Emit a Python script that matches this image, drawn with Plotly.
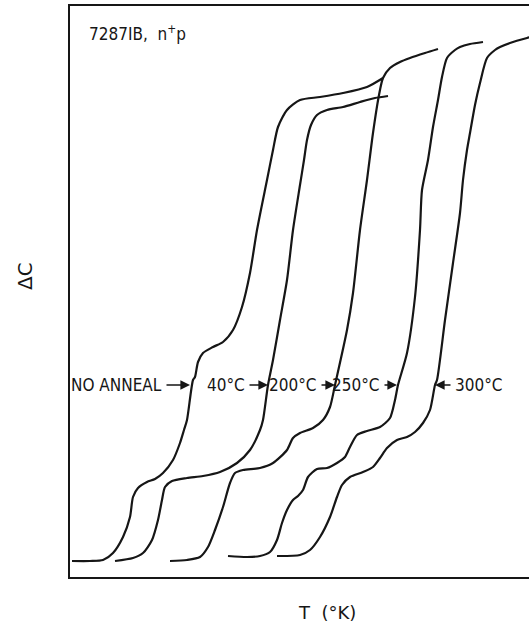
import plotly.graph_objects as go

# Temperature (arbitrary units along T axis) and capacitance change (arbitrary units)
T_no_anneal = [2, 20, 33, 43, 53, 60, 63, 68, 77, 85, 93, 103, 110, 114, 117, 123, 125, 128, 133, 143, 153, 163, 172, 180, 187, 197, 203, 208, 217, 230, 250, 273, 297, 313]
C_no_anneal = [16, 16, 17, 24, 40, 60, 80, 89, 95, 98, 104, 117, 134, 147, 157, 197, 200, 215, 224, 230, 235, 247, 270, 304, 347, 397, 427, 450, 467, 477, 480, 484, 490, 499]

T_40 = [45, 63, 73, 82, 88, 92, 95, 102, 117, 133, 150, 167, 180, 190, 193, 198, 203, 210, 217, 223, 230, 234, 237, 241, 247, 257, 273, 290, 305, 318]
C_40 = [16, 19, 24, 37, 57, 77, 90, 96, 99, 101, 105, 114, 127, 147, 157, 192, 217, 257, 297, 347, 392, 417, 437, 452, 462, 467, 470, 475, 479, 481]

T_200 = [100, 117, 130, 138, 145, 153, 160, 165, 173, 190, 203, 217, 223, 230, 243, 253, 260, 265, 277, 283, 290, 297, 303, 309, 313, 320, 330, 340, 355, 368]
C_200 = [16, 17, 20, 30, 47, 70, 94, 104, 107, 109, 114, 127, 139, 144, 149, 157, 170, 192, 247, 284, 347, 397, 444, 482, 499, 509, 515, 519, 524, 528]

T_250 = [158, 177, 190, 200, 207, 212, 217, 223, 228, 233, 238, 247, 257, 267, 275, 280, 287, 297, 310, 320, 325, 328, 337, 345, 350, 352, 358, 363, 368, 372, 377, 385, 390, 400, 413]
C_250 = [21, 20, 21, 25, 37, 54, 67, 77, 81, 87, 100, 108, 109, 114, 120, 130, 142, 146, 150, 159, 177, 192, 224, 280, 347, 387, 417, 450, 477, 500, 519, 527, 530, 533, 535]

T_300 = [207, 230, 240, 250, 260, 267, 272, 280, 293, 303, 310, 317, 327, 337, 345, 353, 360, 365, 367, 375, 383, 390, 393, 397, 400, 405, 410, 417, 425, 430, 440, 457, 465]
C_300 = [21, 22, 27, 40, 60, 80, 92, 100, 105, 110, 119, 129, 137, 140, 145, 154, 167, 192, 197, 257, 314, 364, 397, 427, 444, 472, 494, 519, 527, 530, 534, 539, 541]

series = [
    ("NO ANNEAL", T_no_anneal, C_no_anneal),
    ("40°C", T_40, C_40),
    ("200°C", T_200, C_200),
    ("250°C", T_250, C_250),
    ("300°C", T_300, C_300),
]

# label text: (text, text anchor T, arrow tail T, arrow tip T, side)
label_C = 192
labels = [
    ("NO ANNEAL", 95, 95, 120, "right"),
    ("40°C", 178, 178, 198, "right"),
    ("200°C", 250, 250, 265, "right"),
    ("250°C", 313, 313, 327, "right"),
    ("300°C", 382, 382, 365, "left"),
]

INK = "#161616"
LBL_FONT = dict(family="DejaVu Sans Condensed, Liberation Sans Narrow, DejaVu Sans", size=17, color=INK)

fig = go.Figure()
for name, t, c in series:
    fig.add_trace(go.Scatter(x=t, y=c, mode="lines", name=name,
                             line=dict(color=INK, width=2.2, shape="spline", smoothing=0.7),
                             showlegend=False, hoverinfo="skip"))

for text, tx, tail, tip, side in labels:
    fig.add_annotation(x=tx, y=label_C, xref="x", yref="y", text=text, showarrow=False,
                       xanchor=side, yanchor="middle", font=LBL_FONT, xshift=(-1 if side == "right" else 1))
    fig.add_annotation(x=tip, y=label_C, ax=tail, ay=label_C, xref="x", yref="y",
                       axref="x", ayref="y", text="", showarrow=True, arrowhead=2,
                       arrowsize=1.2, arrowwidth=1.6, arrowcolor=INK, standoff=0, startstandoff=0)

fig.add_annotation(x=17, y=544, xref="x", yref="y", text="7287IB,  n<sup>+</sup>p", showarrow=False,
                   xanchor="left", yanchor="middle", font=LBL_FONT)

fig.add_annotation(x=327, y=612, xref="paper", yref="paper", text="T  (°K)", showarrow=False,
                   font=dict(family="DejaVu Sans", size=18, color=INK))
fig.add_annotation(x=25, y=276, xref="paper", yref="paper", text="ΔC", showarrow=False, textangle=-90,
                   font=dict(family="DejaVu Sans", size=20, color=INK))

fig.update_layout(
    width=529, height=622,
    margin=dict(l=70, r=0, t=6, b=45),
    paper_bgcolor="white", plot_bgcolor="white",
    xaxis=dict(range=[0, 459], showgrid=False, zeroline=False, showticklabels=False, ticks="",
               showline=True, linecolor=INK, linewidth=1.6, mirror=True),
    yaxis=dict(range=[0, 571], showgrid=False, zeroline=False, showticklabels=False, ticks="",
               showline=True, linecolor=INK, linewidth=1.6, mirror=False),
)

# convert paper-pixel annotations for titles to paper fractions
for ann in fig.layout.annotations:
    if ann.xref == "paper":
        px, py = ann.x, ann.y
        ann.x = (px - 70) / 459
        ann.y = (577 - py) / 571
        ann.xanchor = "center"
        ann.yanchor = "middle"

fig.write_html("out.html")
